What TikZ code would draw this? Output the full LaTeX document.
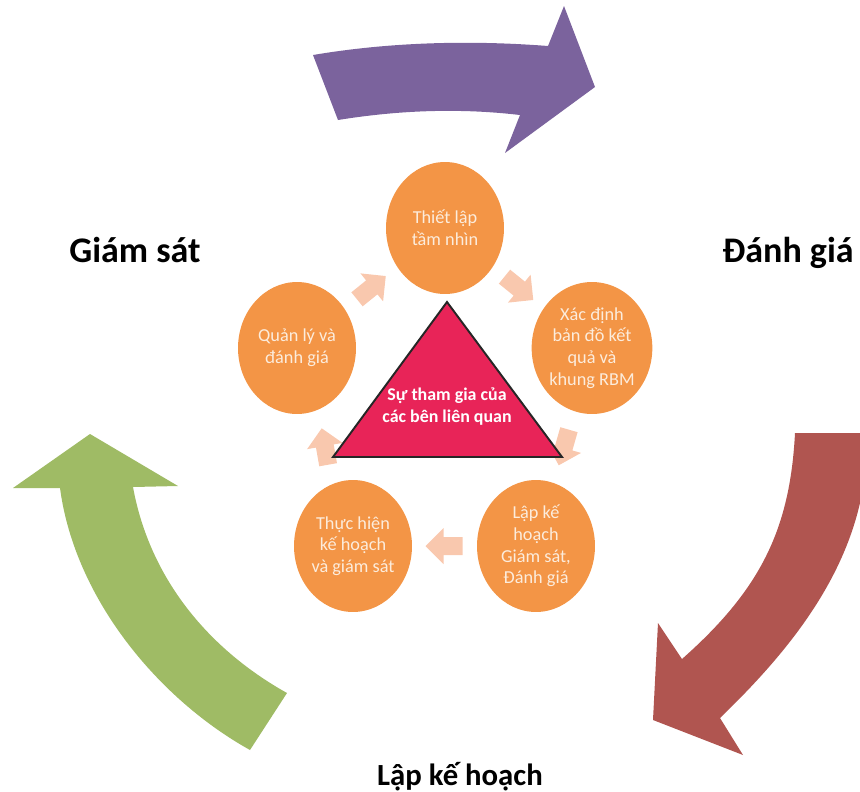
\documentclass[tikz,border=0pt]{standalone}
\usepackage{fontspec}
\setmainfont{Carlito}
\usetikzlibrary{calc,shapes.geometric}
\definecolor{stagefill}{RGB}{243,149,70}
\definecolor{stagetext}{RGB}{252,236,220}
\definecolor{hubfill}{RGB}{232,36,88}
\definecolor{plumarrow}{RGB}{123,99,157}
\definecolor{brickarrow}{RGB}{176,85,80}
\definecolor{leafarrow}{RGB}{159,187,101}
\definecolor{peach}{RGB}{249,200,174}
\tikzset{x=0.02cm, y=-0.02cm,
  stage/.style={ellipse, fill=stagefill, minimum width=2.36cm,
        minimum height=2.64cm, inner sep=0pt, align=center,
        text=stagetext, font=\fontsize{10.4}{12.3}\selectfont},
  phase label/.style={anchor=base, font=\fontsize{20.5}{24}\selectfont\bfseries},
  hub/.style={fill=hubfill, draw=black!85, line width=1.1pt},
  cycle arrow/.style={fill=peach}
  }
\def\CycleArrow#1#2#3{%
\begin{scope}[shift={($(#1)!0.5!(#2)$)}, rotate=#3]
  \fill[cycle arrow] (-18,-9) -- (1,-9) -- (1,-18) -- (19,0) -- (1,18) -- (1,9) -- (-18,9) -- cycle;
\end{scope}
}

\begin{document}
\begin{tikzpicture}
\useasboundingbox (0,0) rectangle (860,792);
% big arrows
\fill[plumarrow] (313,55) .. controls (390,42) and (470,40) .. (548,46) -- (564,6) -- (595,87)
  -- (505,153) -- (520,115) .. controls (460,108) and (400,110) .. (338,120) -- cycle;
\fill[brickarrow] (795,433) -- (860,433) -- (860,503) .. controls (840,590) and (780,660) .. (720,718)
  -- (743,755) -- (653,720) -- (658,623) -- (682,659) .. controls (760,590) and (790,530) .. (795,433) -- cycle;
\fill[leafarrow] (250,750) .. controls (160,700) and (75,600) .. (60,488) -- (13,488) -- (90,434)
  -- (178,486) -- (133,487) .. controls (150,580) and (210,650) .. (287,693) -- cycle;

\node[phase label] (monitor) at (135,262) {Giám sát};
\node[phase label] (evaluate) at (788,262) {Đánh giá};
\node[phase label, font=\fontsize{17.5}{21}\selectfont\bfseries] (planning) at (460,785) {Lập kế hoạch};

\node[stage] (vision) at (445,228) {Thiết lập\\tầm nhìn};
\node[stage] (results) at (592,348) {Xác định\\bản đồ kết\\quả và\\khung RBM};
\node[stage] (plan) at (536,546) {Lập kế\\hoạch\\Giám sát,\\Đánh giá};
\node[stage] (implement) at (353,546) {Thực hiện\\kế hoạch\\và giám sát};
\node[stage] (manage) at (297,348) {Quản lý và\\đánh giá};

\CycleArrow{vision}{results}{-39}
\CycleArrow{results}{plan}{-106}
\CycleArrow{plan}{implement}{180}
\CycleArrow{implement}{manage}{100}
\CycleArrow{manage}{vision}{39}

% center
\coordinate (apex) at (447,302);
\coordinate (base left) at (333,457);
\coordinate (base right) at (562,457);
\draw[hub] (apex) -- (base left) -- (base right) -- cycle;
\node[align=center, text=white, font=\fontsize{10.2}{12.5}\selectfont\bfseries] (stakeholders) at (447,407)
  {Sự tham gia của\\các bên liên quan};
\end{tikzpicture}
\end{document}
